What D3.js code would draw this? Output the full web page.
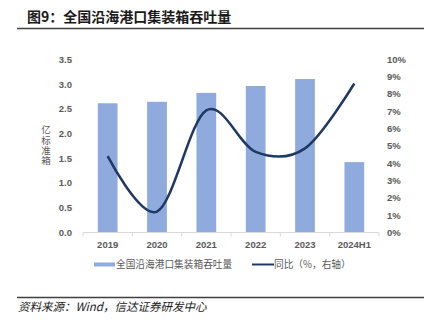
<!DOCTYPE html>
<html><head><meta charset="utf-8">
<script src="https://cdn.jsdelivr.net/npm/d3@7"></script>
<style>
html,body{margin:0;padding:0;background:#fff;}
svg{display:block;}
</style></head>
<body>
<svg id="c" width="434" height="323"></svg>
<script>
const categories = ["2019","2020","2021","2022","2023","2024H1"];
const throughput = [2.61, 2.64, 2.82, 2.96, 3.10, 1.42];
const yoy = [4.4, 1.2, 7.05, 4.65, 4.85, 8.6];
const leftTicks = [0,0.5,1.0,1.5,2.0,2.5,3.0,3.5];
const rightTicks = [0,1,2,3,4,5,6,7,8,9,10];
const title = "图9：全国沿海港口集装箱吞吐量";
const source = "资料来源：Wind，信达证券研发中心";
const yTitle = "亿标准箱";
const legendNames = ["全国沿海港口集装箱吞吐量","同比（%，右轴）"];

const svg = d3.select("#c");
const cjk = "'Noto Sans CJK SC','Noto Sans',sans-serif";
const num = "'Liberation Sans',Arial,sans-serif";
const gray = "#595959";

// title
svg.append("text").attr("x",27).attr("y",22).text(title)
  .attr("font-family",cjk).attr("font-weight",700).attr("font-size",14).attr("fill","#1a1a1a");
svg.append("line").attr("x1",17).attr("x2",424).attr("y1",28.5).attr("y2",28.5)
  .attr("stroke","#404040").attr("stroke-width",1.5);

const x = d3.scaleBand().domain(categories).range([83,379]).paddingInner(0.6).paddingOuter(0.3);
const yL = d3.scaleLinear().domain([0,3.5]).range([232.3,59.3]);
const yR = d3.scaleLinear().domain([0,10]).range([232.3,59.3]);

// bars
svg.append("g").selectAll("rect").data(categories).join("rect")
  .attr("x",d=>x(d)).attr("width",x.bandwidth())
  .attr("y",(d,i)=>yL(throughput[i])).attr("height",(d,i)=>yL(0)-yL(throughput[i]))
  .attr("fill","#8faadc");

// x axis
const xa = svg.append("g");
xa.append("line").attr("x1",83).attr("x2",379).attr("y1",232.5).attr("y2",232.5).attr("stroke","#d9d9d9");
const edges = categories.map(c=>x(c)-x.step()*x.paddingInner()/2).concat([379]);
edges[0]=83;
xa.selectAll("line.t").data(edges).join("line").attr("class","t")
  .attr("x1",d=>d).attr("x2",d=>d).attr("y1",232.5).attr("y2",236.5).attr("stroke","#d9d9d9");
xa.selectAll("text").data(categories).join("text")
  .attr("x",d=>x(d)+x.bandwidth()/2).attr("y",247.5).attr("text-anchor","middle")
  .text(d=>d).attr("font-family",num).attr("font-weight",700).attr("font-size",9.5).attr("fill",gray);

// left ticks
svg.append("g").selectAll("text").data(leftTicks).join("text")
  .attr("x",72).attr("y",d=>yL(d)+3.5).attr("text-anchor","end")
  .text(d=>d3.format(".1f")(d)).attr("font-family",num).attr("font-weight",700).attr("font-size",9.5).attr("fill",gray);
// right ticks
svg.append("g").selectAll("text").data(rightTicks).join("text")
  .attr("x",387).attr("y",d=>yR(d)+3.5).attr("text-anchor","start")
  .text(d=>d+"%").attr("font-family",num).attr("font-weight",700).attr("font-size",9.5).attr("fill",gray);

// y title vertical (single text, vertical writing mode)
svg.append("text").attr("x",46).attr("y",125)
  .style("writing-mode","vertical-rl").style("text-orientation","upright")
  .attr("letter-spacing",0.8)
  .text(yTitle).attr("font-family",cjk).attr("font-size",9.5).attr("fill",gray);

// line
const line = d3.line().x((d,i)=>x(categories[i])+x.bandwidth()/2).y(d=>yR(d)).curve(d3.curveCardinal.tension(0));
svg.append("path").datum(yoy).attr("d",line).attr("fill","none")
  .attr("stroke","#1f3864").attr("stroke-width",2.5).attr("stroke-linecap","butt");

// legend
const lg = svg.append("g");
lg.append("rect").attr("x",94).attr("y",262.5).attr("width",21).attr("height",4).attr("fill","#8faadc");
lg.append("text").attr("x",116).attr("y",268).text(legendNames[0])
  .attr("font-family",cjk).attr("font-size",9.7).attr("fill",gray);
lg.append("line").attr("x1",252).attr("x2",274).attr("y1",264.5).attr("y2",264.5).attr("stroke","#1f3864").attr("stroke-width",2);
lg.append("text").attr("x",274).attr("y",268).text(legendNames[1])
  .attr("font-family",cjk).attr("font-size",9.7).attr("fill",gray);

// footer
svg.append("line").attr("x1",17).attr("x2",424).attr("y1",297.5).attr("y2",297.5)
  .attr("stroke","#404040").attr("stroke-width",1.5);
svg.append("text").attr("x",18).attr("y",311).text(source)
  .attr("font-family",cjk).attr("font-style","italic").attr("font-size",11.5).attr("fill","#1a1a1a");
</script>
</body></html>
